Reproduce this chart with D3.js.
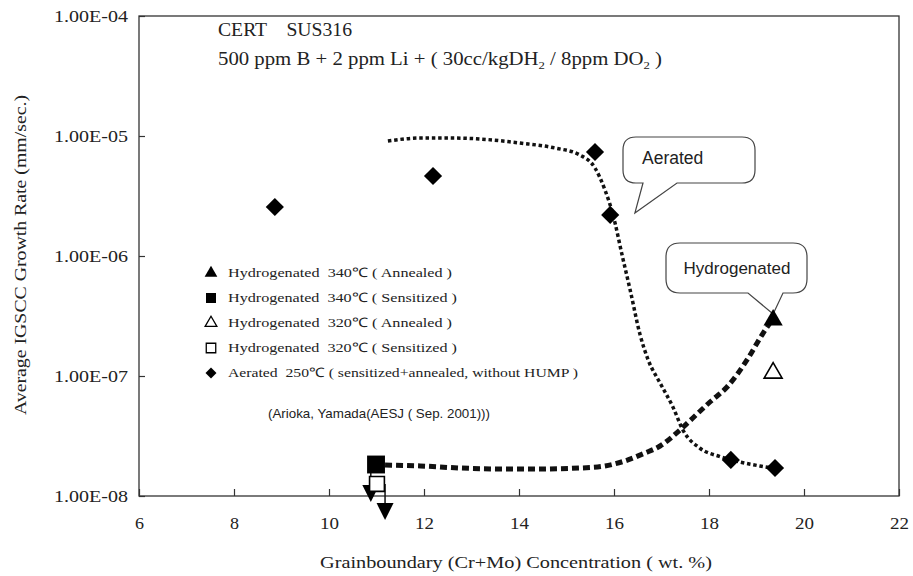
<!DOCTYPE html>
<html>
<head>
<meta charset="utf-8">
<script src="https://cdn.jsdelivr.net/npm/d3@7"></script>
<style>
  html, body { margin: 0; padding: 0; background: #fff; }
  svg { display: block; }
  .serif { font-family: "Liberation Serif", "Times New Roman", serif; fill: #222; }
  .sans { font-family: "Liberation Sans", Arial, sans-serif; fill: #222; }
</style>
</head>
<body>
<svg id="chart" width="913" height="576"></svg>
<script>
// ---- data ----
// Aerated 250°C crack growth rates (mm/sec) vs grain-boundary Cr+Mo (wt.%)
const aeratedX = [8.86, 12.19, 15.60, 15.92, 18.46, 19.39];
const aeratedY = [2.56e-6, 4.64e-6, 7.36e-6, 2.20e-6, 2.00e-8, 1.71e-8];

// Hydrogenated series
const h340AnnealedX = [19.35];
const h340AnnealedY = [2.93e-7];
const h340SensitizedX = [10.99];
const h340SensitizedY = [1.83e-8];
const h320AnnealedX = [19.35];
const h320AnnealedY = [1.06e-7];
const h320SensitizedX = [11.01];
const h320SensitizedY = [1.26e-8];

// upper-limit arrows (below detection): start value and arrow tip value
const limitX = [10.88, 11.18];
const limitFromY = [1.83e-8, 1.26e-8];
const limitTipY = [8.9e-9, 6.3e-9];

// trend curves (hand-drawn guide lines)
const aeratedTrendX = [11.24, 11.92, 12.55, 13.18, 14.02, 14.76, 15.28, 15.60, 15.81, 15.98, 16.17, 16.34, 16.55, 16.72, 16.97, 17.24, 17.45, 17.81, 18.23, 18.65, 19.07, 19.45];
const aeratedTrendY = [9.08e-6, 9.62e-6, 9.62e-6, 9.44e-6, 8.74e-6, 7.94e-6, 6.95e-6, 5.41e-6, 3.55e-6, 2.20e-6, 1.02e-6, 5.21e-7, 2.20e-7, 1.36e-7, 8.74e-8, 5.52e-8, 3.55e-8, 2.50e-8, 2.13e-8, 1.92e-8, 1.78e-8, 1.68e-8];
const hydroTrendX = [11.18, 11.92, 12.76, 13.60, 14.44, 15.28, 15.81, 16.23, 16.65, 16.97, 17.39, 17.66, 18.02, 18.38, 18.80, 19.14, 19.33];
const hydroTrendY = [1.81e-8, 1.78e-8, 1.71e-8, 1.68e-8, 1.68e-8, 1.71e-8, 1.78e-8, 1.96e-8, 2.28e-8, 2.61e-8, 3.55e-8, 4.47e-8, 6.07e-8, 8.10e-8, 1.36e-7, 2.28e-7, 2.93e-7];

// axes
const xTicks = [6, 8, 10, 12, 14, 16, 18, 20, 22];
const yTicks = [1e-8, 1e-7, 1e-6, 1e-5, 1e-4];
const xTitle = "Grainboundary (Cr+Mo) Concentration ( wt. %)";
const yTitle = "Average IGSCC Growth Rate (mm/sec.)";

const legendLabels = [
  "Hydrogenated  340\u2103 ( Annealed )",
  "Hydrogenated  340\u2103 ( Sensitized )",
  "Hydrogenated  320\u2103 ( Annealed )",
  "Hydrogenated  320\u2103 ( Sensitized )",
  "Aerated  250\u2103 ( sensitized+annealed, without HUMP )"
];

// ---- layout ----
const svg = d3.select("#chart");
const plotL = 139, plotR = 899, plotT = 16, plotB = 496;

const x = d3.scaleLinear().domain([6, 22]).range([plotL, plotR]);
const y = d3.scaleLog().domain([1e-8, 1e-4]).range([plotB, plotT]);

const fmtE = v => {
  const e = Math.round(Math.log10(v));
  return "1.00E" + (e < 0 ? "-" : "+") + String(Math.abs(e)).padStart(2, "0");
};

// stretch a text element to a given rendered width
const fit = (sel, w) => sel.attr("textLength", w).attr("lengthAdjust", "spacingAndGlyphs");

// frame
svg.append("rect")
  .attr("x", plotL).attr("y", plotT)
  .attr("width", plotR - plotL).attr("height", plotB - plotT)
  .attr("fill", "none").attr("stroke", "#333").attr("stroke-width", 1.3);

// x axis
const gx = svg.append("g")
  .attr("transform", `translate(0,${plotB})`)
  .call(d3.axisBottom(x).tickValues(xTicks).tickSize(-7).tickPadding(21).tickFormat(d3.format("d")));
gx.select(".domain").remove();
gx.selectAll(".tick line").attr("stroke", "#333").attr("stroke-width", 1.2);
gx.selectAll(".tick text").attr("class", "serif").attr("font-size", 17).attr("fill", "#222")
  .attr("textLength", d => String(d).length * 10 - 1).attr("lengthAdjust", "spacingAndGlyphs");

// y axis
const gy = svg.append("g")
  .attr("transform", `translate(${plotL},0)`)
  .call(d3.axisLeft(y).tickValues(yTicks).tickSize(-6).tickPadding(11).tickFormat(fmtE));
gy.select(".domain").remove();
gy.selectAll(".tick line").attr("stroke", "#333").attr("stroke-width", 1.2);
gy.selectAll(".tick text").attr("class", "serif").attr("font-size", 17).attr("fill", "#222")
  .attr("textLength", 74).attr("lengthAdjust", "spacingAndGlyphs");

// axis titles
fit(svg.append("text").attr("class", "serif")
  .attr("x", 516).attr("y", 568)
  .attr("text-anchor", "middle").attr("font-size", 17)
  .text(xTitle), 392);
fit(svg.append("text").attr("class", "serif")
  .attr("transform", `translate(26,255) rotate(-90)`)
  .attr("text-anchor", "middle").attr("font-size", 16)
  .text(yTitle), 320);

// header text
fit(svg.append("text").attr("class", "serif").attr("x", 218).attr("y", 36).attr("font-size", 18)
  .attr("xml:space", "preserve").text("CERT    SUS316"), 134);
const sub = svg.append("text").attr("class", "serif").attr("x", 218).attr("y", 65).attr("font-size", 18)
  .attr("xml:space", "preserve");
sub.append("tspan").text("500 ppm B + 2 ppm Li + ( 30cc/kgDH");
sub.append("tspan").attr("font-size", 11).attr("dy", 4).text("2");
sub.append("tspan").attr("dy", -4).text(" / 8ppm DO");
sub.append("tspan").attr("font-size", 11).attr("dy", 4).text("2");
sub.append("tspan").attr("dy", -4).text(" )");
fit(sub, 444);

// trend curves
const line = d3.line().x(d => x(d[0])).y(d => y(d[1])).curve(d3.curveMonotoneX);
svg.append("path")
  .datum(aeratedTrendX.map((v, i) => [v, aeratedTrendY[i]]))
  .attr("d", line).attr("fill", "none").attr("stroke", "#111")
  .attr("stroke-width", 3.5).attr("stroke-dasharray", "3.5,2.8");
svg.append("path")
  .datum(hydroTrendX.map((v, i) => [v, hydroTrendY[i]]))
  .attr("d", line).attr("fill", "none").attr("stroke", "#111")
  .attr("stroke-width", 5).attr("stroke-dasharray", "7,4");

// callout bubbles
function callout(x0, y0, x1, y1, r, bx0, bx1, tipX, tipY) {
  const p = d3.path();
  p.moveTo(x0 + r, y0);
  p.lineTo(x1 - r, y0);
  p.quadraticCurveTo(x1, y0, x1, y0 + r);
  p.lineTo(x1, y1 - r);
  p.quadraticCurveTo(x1, y1, x1 - r, y1);
  p.lineTo(bx1, y1);
  p.lineTo(tipX, tipY);
  p.lineTo(bx0, y1);
  p.lineTo(x0 + r, y1);
  p.quadraticCurveTo(x0, y1, x0, y1 - r);
  p.lineTo(x0, y0 + r);
  p.quadraticCurveTo(x0, y0, x0 + r, y0);
  p.closePath();
  return p.toString();
}
svg.append("path")
  .attr("d", callout(623, 137, 755, 183, 13, 643, 677, x(16.44), y(2.28e-6)))
  .attr("fill", "#fff").attr("stroke", "#444").attr("stroke-width", 1.2);
svg.append("text").attr("class", "sans").attr("x", 642).attr("y", 164)
  .attr("font-size", 17.5).text("Aerated");

svg.append("path")
  .attr("d", callout(666, 243, 807, 293, 14, 748, 783, x(h340AnnealedX[0]), y(h340AnnealedY[0]) - 6))
  .attr("fill", "#fff").attr("stroke", "#444").attr("stroke-width", 1.2);
svg.append("text").attr("class", "sans").attr("x", 737).attr("y", 274)
  .attr("text-anchor", "middle").attr("font-size", 17).text("Hydrogenated");

// upper-limit arrows
limitX.forEach((v, i) => {
  svg.append("line")
    .attr("x1", x(v)).attr("x2", x(v))
    .attr("y1", y(limitFromY[i])).attr("y2", y(limitTipY[i]) - 8)
    .attr("stroke", "#111").attr("stroke-width", 1.5);
  const tx = x(v), ty = y(limitTipY[i]);
  svg.append("path")
    .attr("d", `M${tx},${ty} L${tx - 8.5},${ty - 17} L${tx + 8.5},${ty - 17} Z`)
    .attr("fill", "#000");
});

// markers
const sym = (type, size) => d3.symbol().type(type).size(size)();
function plotPoints(xs, ys, type, size, filled, rot) {
  svg.append("g").selectAll("path").data(xs.map((v, i) => [v, ys[i]])).join("path")
    .attr("transform", d => `translate(${x(d[0])},${y(d[1])}) rotate(${rot || 0})`)
    .attr("d", sym(type, size))
    .attr("fill", filled ? "#000" : "#fff")
    .attr("stroke", "#000").attr("stroke-width", filled ? 0 : 1.6);
}
plotPoints(h320SensitizedX, h320SensitizedY, d3.symbolSquare, 220, false);
plotPoints(h340SensitizedX, h340SensitizedY, d3.symbolSquare, 320, true);
plotPoints(h320AnnealedX, h320AnnealedY, d3.symbolTriangle, 140, false);
plotPoints(h340AnnealedX, h340AnnealedY, d3.symbolTriangle, 160, true);
plotPoints(aeratedX, aeratedY, d3.symbolSquare, 165, true, 45);

// legend
const legendTypes = [d3.symbolTriangle, d3.symbolSquare, d3.symbolTriangle, d3.symbolSquare, d3.symbolSquare];
const legendFilled = [true, true, false, false, true];
const legendSizes = [70, 100, 60, 90, 60];
const legendRot = [0, 0, 0, 0, 45];
const legendWidths = [224, 229, 224, 229, 350];
const lg = svg.append("g");
legendLabels.forEach((t, i) => {
  const ly = 273 + i * 25;
  lg.append("path")
    .attr("transform", `translate(211,${ly}) rotate(${legendRot[i]})`)
    .attr("d", sym(legendTypes[i], legendSizes[i]))
    .attr("fill", legendFilled[i] ? "#000" : "#fff")
    .attr("stroke", "#000").attr("stroke-width", legendFilled[i] ? 0 : 1.3);
  fit(lg.append("text").attr("class", "serif")
    .attr("x", 228).attr("y", ly + 4).attr("font-size", 13)
    .attr("xml:space", "preserve")
    .text(t), legendWidths[i]);
});

// source note
fit(svg.append("text").attr("class", "sans").attr("x", 268).attr("y", 418)
  .attr("font-size", 13).text("(Arioka, Yamada(AESJ ( Sep. 2001)))"), 222);
</script>
</body>
</html>
